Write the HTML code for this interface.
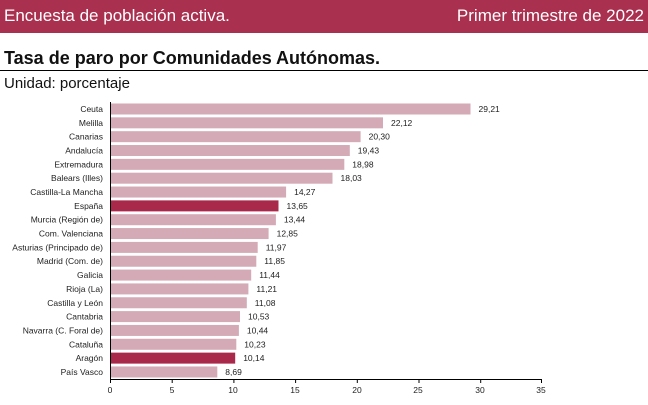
<!DOCTYPE html>
<html><head><meta charset="utf-8"><style>
body{margin:0;width:648px;height:405px;background:#fff;font-family:"Liberation Sans",sans-serif;position:relative;overflow:hidden}
.hdr{position:absolute;left:0;top:0;width:648px;height:33px;background:#a9304f;color:#fff;font-size:17px}
</style></head><body>
<div class="hdr"><span style="position:absolute;left:4px;top:6px">Encuesta de población activa.</span><span style="position:absolute;right:4px;top:6px">Primer trimestre de 2022</span></div>
<div style="position:absolute;left:4px;top:48px;font-size:18px;font-weight:bold;color:#111">Tasa de paro por Comunidades Autónomas.</div>
<div style="position:absolute;left:0;top:70px;width:648px;height:1px;background:#000"></div>
<div style="position:absolute;left:4px;top:75px;font-size:15px;color:#111">Unidad: porcentaje</div>
<svg width="648" height="405" style="position:absolute;left:0;top:0" font-family="Liberation Sans, sans-serif" font-size="8.5" fill="#222">
<g fill="#d4aab6">
<rect x="111" y="103.5" width="359.5" height="11"/>
<rect x="111" y="117.34" width="272" height="11"/>
<rect x="111" y="131.18" width="249.6" height="11"/>
<rect x="111" y="145.02" width="238.8" height="11"/>
<rect x="111" y="158.86" width="233.3" height="11"/>
<rect x="111" y="172.7" width="221.5" height="11"/>
<rect x="111" y="186.54" width="175.1" height="11"/>
<rect x="111" y="200.38" width="167.5" height="11" fill="#a8294a"/>
<rect x="111" y="214.22" width="164.9" height="11"/>
<rect x="111" y="228.06" width="157.6" height="11"/>
<rect x="111" y="241.9" width="146.7" height="11"/>
<rect x="111" y="255.74" width="145.3" height="11"/>
<rect x="111" y="269.58" width="140.2" height="11"/>
<rect x="111" y="283.42" width="137.4" height="11"/>
<rect x="111" y="297.26" width="135.8" height="11"/>
<rect x="111" y="311.1" width="129" height="11"/>
<rect x="111" y="324.94" width="127.9" height="11"/>
<rect x="111" y="338.78" width="125.3" height="11"/>
<rect x="111" y="352.62" width="124.2" height="11" fill="#a8294a"/>
<rect x="111" y="366.46" width="106.3" height="11"/>
</g>
<g text-anchor="end">
<text x="103" y="112">Ceuta</text>
<text x="103" y="125.84">Melilla</text>
<text x="103" y="139.68">Canarias</text>
<text x="103" y="153.52">Andalucía</text>
<text x="103" y="167.36">Extremadura</text>
<text x="103" y="181.2">Balears (Illes)</text>
<text x="103" y="195.04">Castilla-La Mancha</text>
<text x="103" y="208.88">España</text>
<text x="103" y="222.72">Murcia (Región de)</text>
<text x="103" y="236.56">Com. Valenciana</text>
<text x="103" y="250.4">Asturias (Principado de)</text>
<text x="103" y="264.24">Madrid (Com. de)</text>
<text x="103" y="278.08">Galicia</text>
<text x="103" y="291.92">Rioja (La)</text>
<text x="103" y="305.76">Castilla y León</text>
<text x="103" y="319.6">Cantabria</text>
<text x="103" y="333.44">Navarra (C. Foral de)</text>
<text x="103" y="347.28">Cataluña</text>
<text x="103" y="361.12">Aragón</text>
<text x="103" y="374.96">País Vasco</text>
</g>
<g>
<text x="478.5" y="112">29,21</text>
<text x="391" y="125.84">22,12</text>
<text x="368.6" y="139.68">20,30</text>
<text x="357.8" y="153.52">19,43</text>
<text x="352.3" y="167.36">18,98</text>
<text x="340.5" y="181.2">18,03</text>
<text x="294.1" y="195.04">14,27</text>
<text x="286.5" y="208.88">13,65</text>
<text x="283.9" y="222.72">13,44</text>
<text x="276.6" y="236.56">12,85</text>
<text x="265.7" y="250.4">11,97</text>
<text x="264.3" y="264.24">11,85</text>
<text x="259.2" y="278.08">11,44</text>
<text x="256.4" y="291.92">11,21</text>
<text x="254.8" y="305.76">11,08</text>
<text x="248" y="319.6">10,53</text>
<text x="246.9" y="333.44">10,44</text>
<text x="244.3" y="347.28">10,23</text>
<text x="243.2" y="361.12">10,14</text>
<text x="225.3" y="374.96">8,69</text>
</g>
<line x1="110.5" y1="102" x2="110.5" y2="380" stroke="#000"/>
<line x1="110" y1="379.5" x2="542" y2="379.5" stroke="#000"/>
<g stroke="#000">
<line x1="110.5" x2="110.5" y1="379" y2="383"/><line x1="172.2" x2="172.2" y1="379" y2="383"/><line x1="233.9" x2="233.9" y1="379" y2="383"/><line x1="295.6" x2="295.6" y1="379" y2="383"/><line x1="357.3" x2="357.3" y1="379" y2="383"/><line x1="419" x2="419" y1="379" y2="383"/><line x1="480.7" x2="480.7" y1="379" y2="383"/><line x1="541.5" x2="541.5" y1="379" y2="383"/>
</g>
<g text-anchor="middle">
<text x="110" y="393">0</text><text x="172" y="393">5</text><text x="233" y="393">10</text><text x="295" y="393">15</text><text x="357" y="393">20</text><text x="418" y="393">25</text><text x="480" y="393">30</text><text x="541" y="393">35</text>
</g>
</svg>
</body></html>
